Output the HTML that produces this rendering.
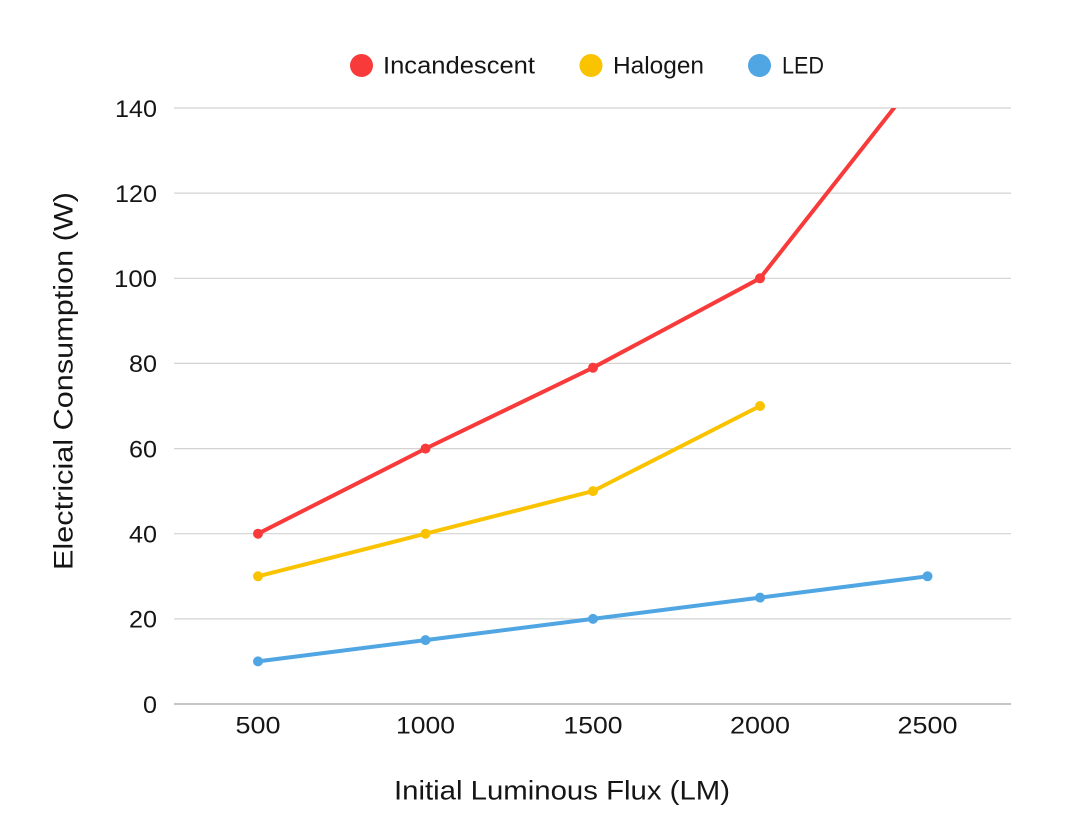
<!DOCTYPE html>
<html>
<head>
<meta charset="utf-8">
<style>
  html,body{margin:0;padding:0;background:#fff;}
  svg{display:block;}
  text{font-family:"Liberation Sans", Arial, sans-serif;fill:#151515;}
</style>
</head>
<body>
<svg width="1080" height="825" viewBox="0 0 1080 825" xmlns="http://www.w3.org/2000/svg">
  <rect width="1080" height="825" fill="#ffffff"/>
  <defs>
    <clipPath id="plot">
      <rect x="150" y="108" width="900" height="620"/>
    </clipPath>
  </defs>

  <!-- Legend -->
  <circle cx="361.5" cy="65.5" r="11.5" fill="#F93A3A"/>
  <text x="383" y="73.5" font-size="24" textLength="152" lengthAdjust="spacingAndGlyphs">Incandescent</text>
  <circle cx="591" cy="65.5" r="11.5" fill="#FAC300"/>
  <text x="613" y="73.5" font-size="24" textLength="91" lengthAdjust="spacingAndGlyphs">Halogen</text>
  <circle cx="759.5" cy="65.5" r="11.5" fill="#50A5E3"/>
  <text x="782" y="73.5" font-size="24" textLength="42" lengthAdjust="spacingAndGlyphs">LED</text>

  <!-- Gridlines -->
  <g stroke="#d3d3d3" stroke-width="1.2">
    <line x1="174" x2="1011" y1="108" y2="108"/>
    <line x1="174" x2="1011" y1="193.1" y2="193.1"/>
    <line x1="174" x2="1011" y1="278.3" y2="278.3"/>
    <line x1="174" x2="1011" y1="363.4" y2="363.4"/>
    <line x1="174" x2="1011" y1="448.6" y2="448.6"/>
    <line x1="174" x2="1011" y1="533.7" y2="533.7"/>
    <line x1="174" x2="1011" y1="618.9" y2="618.9"/>
  </g>
  <line x1="174" x2="1011" y1="704" y2="704" stroke="#b3b3b3" stroke-width="1.6"/>

  <!-- Y tick labels -->
  <g font-size="24.5" text-anchor="end">
    <text x="157" y="116.8" textLength="42" lengthAdjust="spacingAndGlyphs">140</text>
    <text x="157" y="201.9" textLength="42" lengthAdjust="spacingAndGlyphs">120</text>
    <text x="157" y="287.1" textLength="43" lengthAdjust="spacingAndGlyphs">100</text>
    <text x="157" y="372.2" textLength="28" lengthAdjust="spacingAndGlyphs">80</text>
    <text x="157" y="457.4" textLength="28" lengthAdjust="spacingAndGlyphs">60</text>
    <text x="157" y="542.5" textLength="28" lengthAdjust="spacingAndGlyphs">40</text>
    <text x="157" y="627.7" textLength="28" lengthAdjust="spacingAndGlyphs">20</text>
    <text x="157" y="712.8" textLength="14" lengthAdjust="spacingAndGlyphs">0</text>
  </g>

  <!-- X tick labels -->
  <g font-size="24.5" text-anchor="middle">
    <text x="258" y="733.5" textLength="45" lengthAdjust="spacingAndGlyphs">500</text>
    <text x="425.5" y="733.5" textLength="59" lengthAdjust="spacingAndGlyphs">1000</text>
    <text x="593" y="733.5" textLength="59" lengthAdjust="spacingAndGlyphs">1500</text>
    <text x="760" y="733.5" textLength="60" lengthAdjust="spacingAndGlyphs">2000</text>
    <text x="927.5" y="733.5" textLength="60" lengthAdjust="spacingAndGlyphs">2500</text>
  </g>

  <!-- Axis titles -->
  <text x="562" y="799.5" font-size="26.5" text-anchor="middle" textLength="336" lengthAdjust="spacingAndGlyphs">Initial Luminous Flux (LM)</text>
  <text transform="translate(72.5,381) rotate(-90)" font-size="27" text-anchor="middle" textLength="378" lengthAdjust="spacingAndGlyphs">Electricial Consumption (W)</text>

  <!-- Series -->
  <g clip-path="url(#plot)" fill="none" stroke-width="4" stroke-linejoin="round" stroke-linecap="round">
    <polyline stroke="#50A5E3" points="258,661.4 425.5,640.1 593,618.9 760,597.6 927.5,576.3"/>
    <polyline stroke="#FAC300" points="258,576.3 425.5,533.7 593,491.1 760,406"/>
    <polyline stroke="#F93A3A" points="258,533.7 425.5,448.6 593,367.7 760,278.3 927.5,65.4"/>
  </g>
  <g fill="#50A5E3">
    <circle cx="258" cy="661.4" r="5"/>
    <circle cx="425.5" cy="640.1" r="5"/>
    <circle cx="593" cy="618.9" r="5"/>
    <circle cx="760" cy="597.6" r="5"/>
    <circle cx="927.5" cy="576.3" r="5"/>
  </g>
  <g fill="#FAC300">
    <circle cx="258" cy="576.3" r="5"/>
    <circle cx="425.5" cy="533.7" r="5"/>
    <circle cx="593" cy="491.1" r="5"/>
    <circle cx="760" cy="406" r="5"/>
  </g>
  <g fill="#F93A3A">
    <circle cx="258" cy="533.7" r="5"/>
    <circle cx="425.5" cy="448.6" r="5"/>
    <circle cx="593" cy="367.7" r="5"/>
    <circle cx="760" cy="278.3" r="5"/>
  </g>
</svg>
</body>
</html>
